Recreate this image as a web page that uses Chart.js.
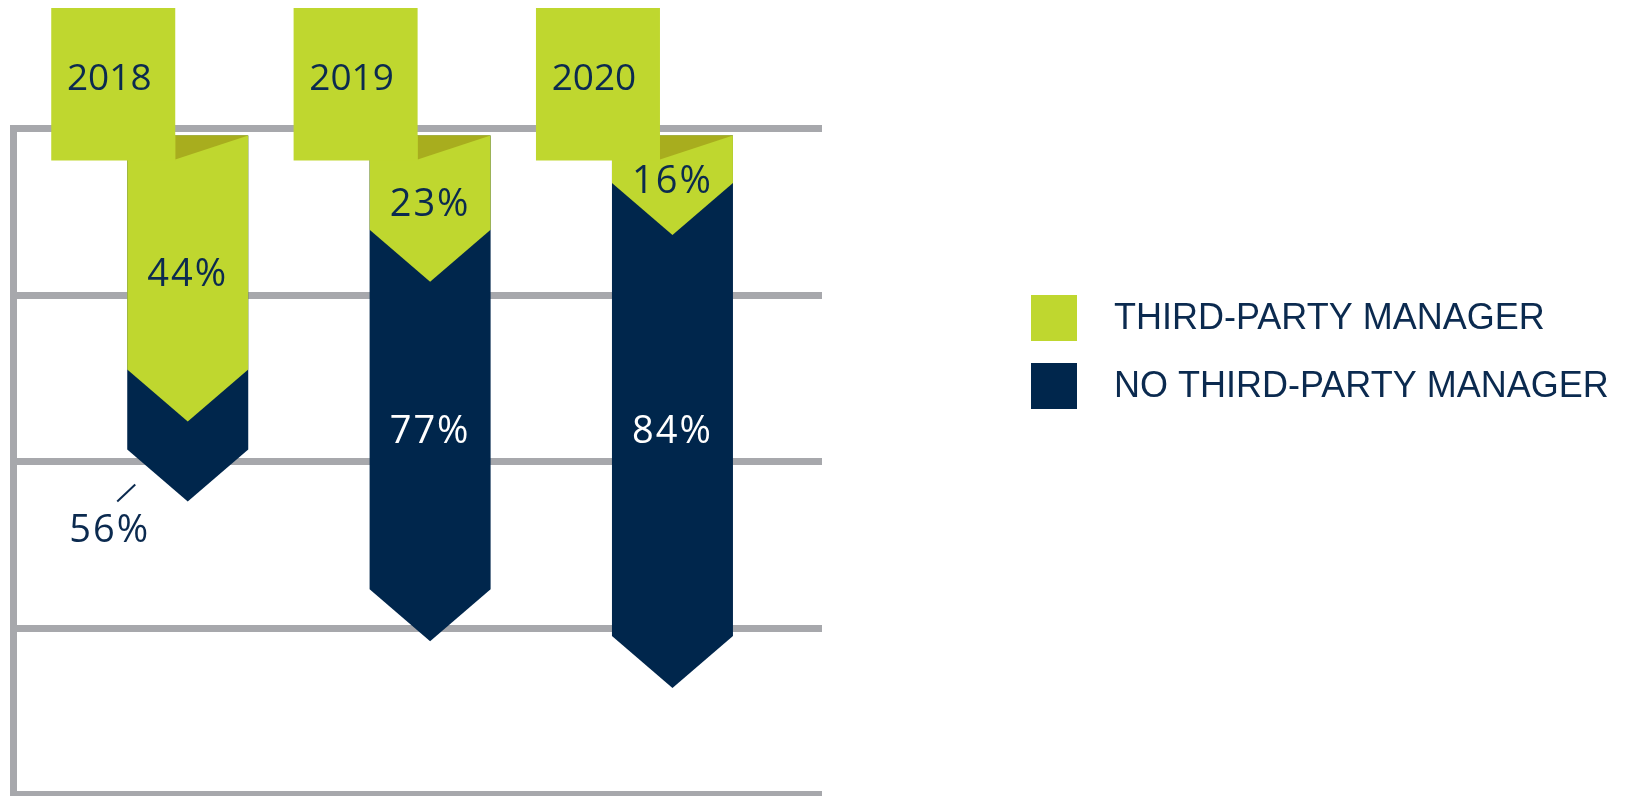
<!DOCTYPE html>
<html><head><meta charset="utf-8">
<script src="https://cdn.jsdelivr.net/npm/chart.js@4.4.1/dist/chart.umd.min.js"></script>
<style>html,body{margin:0;padding:0;background:#fff;overflow:hidden}#wrap{width:1629px;height:796px;position:relative}canvas{display:block}</style>
</head><body><div id="wrap"><canvas id="c" width="1629" height="796"></canvas></div>
<script>
// ---- data ----
const categories = ['2018', '2019', '2020'];
const thirdParty = [44, 23, 16];
const noThirdParty = [56, 77, 84];
const seriesNames = ['THIRD-PARTY MANAGER', 'NO THIRD-PARTY MANAGER'];
const yTicks = [0, 25, 50, 75, 100];

// ---- styles ----
const GREEN = '#bfd72f', NAVY = '#00264c', FOLD = '#a8ad1e', GRID = '#a7a8ac', TEXT = '#0b2a4f';
const NUM_FONT = '"Open Sans", "Noto Sans", sans-serif';
const LEG_FONT = '"Liberation Sans", Arial, sans-serif';

const chevronPlugin = {
  id: 'chevron',
  beforeDatasetDraw() { return false; },
  afterDatasetsDraw(chart) {
    const c = chart.ctx;
    const gridHalf = 3.5, depth = 52;
    c.save();
    [1, 0].forEach(di => {
      const meta = chart.getDatasetMeta(di);
      const col = chart.data.datasets[di].backgroundColor;
      meta.data.forEach(el => {
        const p = el.getProps(['x', 'y', 'base', 'width'], true);
        const l = p.x - p.width / 2, r = p.x + p.width / 2, top = p.base + gridHalf;
        c.beginPath();
        c.moveTo(l, top); c.lineTo(r, top); c.lineTo(r, p.y - depth);
        c.lineTo(p.x, p.y); c.lineTo(l, p.y - depth); c.closePath();
        c.fillStyle = col; c.fill();
      });
    });
    c.restore();
  },
  afterDraw(chart) {
    const c = chart.ctx;
    const yS = chart.scales.y;
    const gMeta = chart.getDatasetMeta(0), dMeta = chart.getDatasetMeta(1);
    const depth = 52;
    c.save();
    gMeta.data.forEach((el, i) => {
      const p = el.getProps(['x', 'y', 'base', 'width'], true);
      const d = dMeta.data[i].getProps(['x', 'y', 'base', 'width'], true);
      const l = p.x - p.width / 2, r = p.x + p.width / 2, top = p.base + 3.5;
      const tabL = l - 76, tabR = l + 48, tabTop = 8, tabBot = top + 25;
      // fold
      c.beginPath(); c.moveTo(tabR, top); c.lineTo(r, top); c.lineTo(tabR, top + 24); c.closePath();
      c.fillStyle = FOLD; c.fill();
      // tab
      c.fillStyle = GREEN; c.fillRect(tabL, tabTop, tabR - tabL, tabBot - tabTop);
      c.fillStyle = TEXT; c.font = '500 37px ' + NUM_FONT; c.textAlign = 'center'; c.textBaseline = 'alphabetic';
      try { c.letterSpacing = '0px'; } catch (e) {}
      c.fillText(categories[i], (tabL + tabR) / 2 - 4, 90);
      // green label
      c.font = '500 38px ' + NUM_FONT;
      try { c.letterSpacing = '2px'; } catch (e) {}
      c.fillStyle = TEXT;
      const gy = yS.getPixelForValue(thirdParty[i] / 2) - 2;
      c.fillText(thirdParty[i] + '%', p.x, gy + 13);
      // dark label
      const visible = d.y - p.y;
      if (visible > 150) {
        c.fillStyle = '#ffffff';
        const dy = ((p.y - depth) + d.y) / 2 - 6;
        c.fillText(noThirdParty[i] + '%', d.x, dy + 13);
      } else {
        c.fillStyle = TEXT;
        c.fillText(noThirdParty[i] + '%', d.x - 78, d.y + 41);
        c.strokeStyle = TEXT; c.lineWidth = 2;
        c.beginPath(); c.moveTo(d.x - 70.5, d.y); c.lineTo(d.x - 52.5, d.y - 17); c.stroke();
      }
    });
    // legend
    const legCols = [GREEN, NAVY];
    try { c.letterSpacing = '0px'; } catch (e) {}
    c.font = '36px ' + LEG_FONT; c.textAlign = 'left'; c.textBaseline = 'alphabetic';
    seriesNames.forEach((name, k) => {
      const by = 295 + k * 68;
      c.fillStyle = legCols[k]; c.fillRect(1031, by, 46, 46);
      c.fillStyle = TEXT; c.fillText(name, 1114, by + 34);
    });
    c.restore();
  }
};

new Chart(document.getElementById('c'), {
  type: 'bar',
  data: {
    datasets: [
      { label: seriesNames[0], data: categories.map((cat, i) => ({ x: i, y: thirdParty[i] })), backgroundColor: GREEN },
      { label: seriesNames[1], data: categories.map((cat, i) => ({ x: i, y: noThirdParty[i] })), backgroundColor: NAVY }
    ]
  },
  options: {
    responsive: false, animation: false,
    layout: { padding: { left: 13, right: 807, top: 128.5, bottom: 1.5 } },
    datasets: { bar: { grouped: false, barThickness: 121 } },
    scales: {
      x: { type: 'linear', min: -0.721, max: 2.617, offset: false, display: false },
      y: {
        min: 0, max: 100, reverse: true,
        afterBuildTicks: s => { s.ticks = yTicks.map(v => ({ value: v })); },
        ticks: { display: false },
        grid: { color: GRID, lineWidth: 7, drawTicks: false, tickLength: 0 },
        border: { display: true, color: GRID, width: 7 }
      }
    },
    plugins: { legend: { display: false }, tooltip: { enabled: false } }
  },
  plugins: [chevronPlugin]
});
</script></body></html>
